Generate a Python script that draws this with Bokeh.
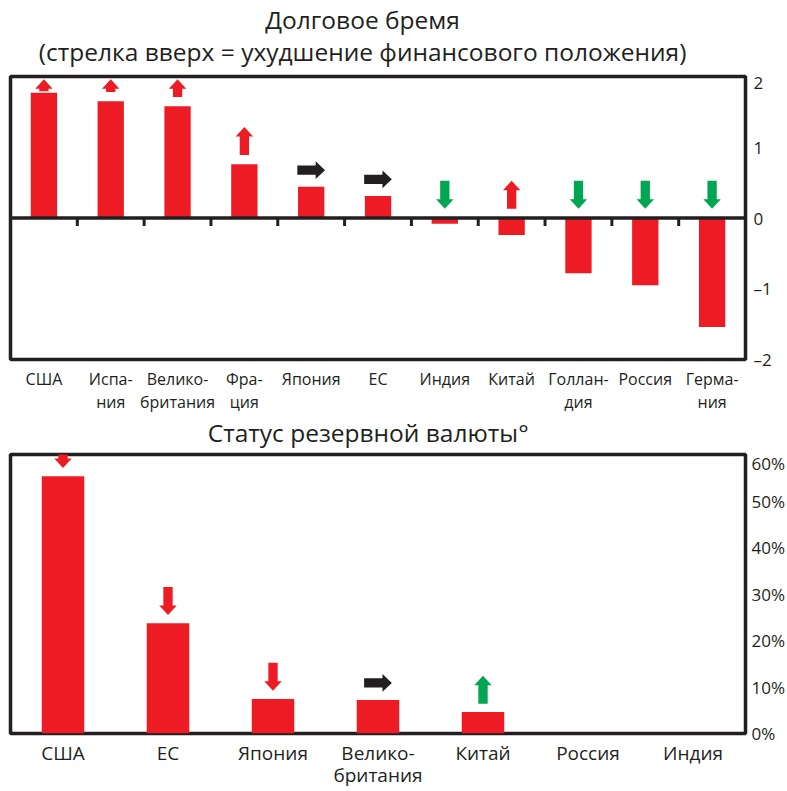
from bokeh.plotting import figure
from bokeh.layouts import column
from bokeh.models import FixedTicker, Range1d, Span
from bokeh.core.properties import value
from bokeh.embed import file_html
from bokeh.resources import INLINE

# ---------------- data ----------------
debt_title = ["Долговое бремя", "(стрелка вверх = ухудшение финансового положения)"]
debt_labels = ["США", "Испа-\nния", "Велико-\nбритания", "Фра-\nция", "Япония", "ЕС",
               "Индия", "Китай", "Голлан-\nдия", "Россия", "Герма-\nния"]
debt_values = [1.77, 1.65, 1.58, 0.76, 0.44, 0.31, -0.08, -0.24, -0.78, -0.95, -1.54]
debt_trend = ["up", "up", "up", "up", "right", "right", "down", "up", "down", "down", "down"]
debt_ticks = [-2, -1, 0, 1, 2]
debt_tick_labels = ["–2", "–1", "0", "1", "2"]

reserve_title = ["Статус резервной валюты°"]
reserve_labels = ["США", "ЕС", "Япония", "Велико-\nбритания", "Китай", "Россия", "Индия"]
reserve_values = [55.3, 23.7, 7.4, 7.2, 4.6, 0.0, 0.0]
reserve_trend = ["down", "down", "down", "right", "up", None, None]
reserve_ticks = [0, 10, 20, 30, 40, 50, 60]
reserve_tick_labels = ["0%", "10%", "20%", "30%", "40%", "50%", "60%"]

# ---------------- styles ----------------
FONT = "Open Sans"
RED = "#ED1C24"
GREEN = "#00A651"
BLACK = "#231F20"
W = 787


def arrow_poly(c, a, b, direction, sx, sy):
    """Arrow polygon in data units; c = position across, a = tail, b = tip."""
    shaft, head, hlen = 4.7, 8.8, 9.5
    if direction in ("up", "down"):
        d = 1 if b > a else -1
        neck = b - d * hlen / sy
        hs, hh = shaft / sx, head / sx
        xs = [c - hs, c + hs, c + hs, c + hh, c, c - hh, c - hs]
        ys = [a, a, neck, neck, b, neck, neck]
    else:
        neck = b - hlen / sx
        hs, hh = shaft / sy, head / sy
        xs = [a, a, neck, neck, b, neck, neck]
        ys = [c - hs, c + hs, c + hs, c + hh, c, c - hh, c - hs]
    return xs, ys


def title_strip(lines, h, cx, centers):
    """A frameless strip holding the title lines (pixel-like units)."""
    s = figure(width=W, height=h, output_backend="svg", toolbar_location=None,
               x_range=Range1d(0, W), y_range=Range1d(0, h),
               x_axis_location=None, y_axis_location=None,
               min_border_left=0, min_border_right=0, min_border_top=0,
               min_border_bottom=0, title=None)
    s.xgrid.visible = False
    s.ygrid.visible = False
    s.outline_line_color = None
    s.text(x=[cx] * len(lines), y=[h - c for c in centers], text=lines,
           text_align="center", text_baseline="middle", text_font=value(FONT),
           text_font_size="24.5px", text_color=BLACK)
    return s


def make_fig(h, n, y0, y1, left, top, xticks, xlabels, yticks, ylabels,
             xfs, xstand, xlh, ystand):
    p = figure(width=W, height=h, output_backend="svg", toolbar_location=None,
               x_range=Range1d(0, n), y_range=Range1d(y0, y1), y_axis_location="right",
               min_border_left=left, min_border_right=0,
               min_border_top=top, min_border_bottom=0, title=None)
    p.xgrid.visible = False
    p.ygrid.visible = False
    p.outline_line_color = BLACK
    p.outline_line_width = 3.5
    ax = p.xaxis[0]
    ax.ticker = FixedTicker(ticks=xticks)
    ax.major_label_overrides = {float(t): l for t, l in zip(xticks, xlabels)}
    ax.axis_line_color = None
    ax.major_tick_line_color = None
    ax.minor_tick_line_color = None
    ax.major_tick_out = 0
    ax.major_tick_in = 0
    ax.major_label_standoff = xstand
    ax.major_label_text_font = FONT
    ax.major_label_text_font_size = xfs
    ax.major_label_text_line_height = xlh
    ax.major_label_text_color = BLACK
    ay = p.yaxis[0]
    ay.ticker = FixedTicker(ticks=yticks)
    ay.major_label_overrides = {float(t): l for t, l in zip(yticks, ylabels)}
    ay.axis_line_color = None
    ay.major_tick_line_color = None
    ay.minor_tick_line_color = None
    ay.major_tick_out = 0
    ay.major_tick_in = 0
    ay.major_label_standoff = ystand
    ay.major_label_text_font = FONT
    ay.major_label_text_font_size = "17px"
    ay.major_label_text_color = BLACK
    return p


# ================= top chart =================
s1 = title_strip(debt_title, 70, 377, [19, 51])

n1 = len(debt_labels)
xc1 = [i + 0.5 for i in range(n1)]
p1 = make_fig(345, n1, -2, 2, 10, 6, xc1, debt_labels,
              debt_ticks, debt_tick_labels, "16px", 8, 1.05, 8)
sx1, sy1 = 743 / n1, 283 / 4.0

p1.vbar(x=xc1, top=debt_values, bottom=0, width=0.394, fill_color=RED, line_color=None)
p1.add_layout(Span(location=0, dimension="width", line_color=BLACK, line_width=3.5))
bounds = list(range(1, n1))
p1.segment(x0=bounds, y0=[0] * len(bounds), x1=bounds, y1=[-8 / sy1] * len(bounds),
           line_color=BLACK, line_width=3)

gap1, ALEN = 0.13, 28
cap1 = 1.96
arr_x, arr_y, arr_c = [], [], []
for cx, v, t in zip(xc1, debt_values, debt_trend):
    anchor = max(v, 0) + gap1
    if t == "up":
        tip = min(anchor + ALEN / sy1, cap1)
        tail = min(anchor, tip - 12 / sy1)
        xs, ys = arrow_poly(cx, tail, tip, t, sx1, sy1)
        col = RED
    elif t == "down":
        xs, ys = arrow_poly(cx, anchor + ALEN / sy1, anchor, t, sx1, sy1)
        col = GREEN
    else:
        cy = anchor + 7.5 / sy1
        xs, ys = arrow_poly(cy, cx - ALEN / 2 / sx1, cx + ALEN / 2 / sx1, t, sx1, sy1)
        col = BLACK
    arr_x.append(xs); arr_y.append(ys); arr_c.append(col)
p1.patches(xs=arr_x, ys=arr_y, fill_color=arr_c, line_color=None)

# ================= bottom chart =================
s2 = title_strip(reserve_title, 36, 383, [17])

n2 = len(reserve_labels)
xc2 = [i + 0.5 for i in range(n2)]
p2 = make_fig(340, n2, 0, 60, 3, 3, xc2, reserve_labels,
              reserve_ticks, reserve_tick_labels, "19px", 6, 0.88, 6)
sx2, sy2 = 740 / n2, 280 / 60.0

p2.vbar(x=xc2, top=reserve_values, bottom=0, width=0.405, fill_color=RED, line_color=None)

gap2 = 1.8
arr_x, arr_y, arr_c = [], [], []
for cx, v, t in zip(xc2, reserve_values, reserve_trend):
    if t is None:
        continue
    anchor = v + gap2
    if t == "up":
        xs, ys = arrow_poly(cx, anchor, anchor + ALEN / sy2, t, sx2, sy2)
        col = GREEN
    elif t == "down":
        xs, ys = arrow_poly(cx, anchor + ALEN / sy2, anchor, t, sx2, sy2)
        col = RED
    else:
        cy = anchor + 8.8 / sy2
        xs, ys = arrow_poly(cy, cx - ALEN / 2 / sx2, cx + ALEN / 2 / sx2, t, sx2, sy2)
        col = BLACK
    arr_x.append(xs); arr_y.append(ys); arr_c.append(col)
p2.patches(xs=arr_x, ys=arr_y, fill_color=arr_c, line_color=None)

layout = column(s1, p1, s2, p2, spacing=0)
open("out.html", "w").write(file_html(layout, INLINE))
